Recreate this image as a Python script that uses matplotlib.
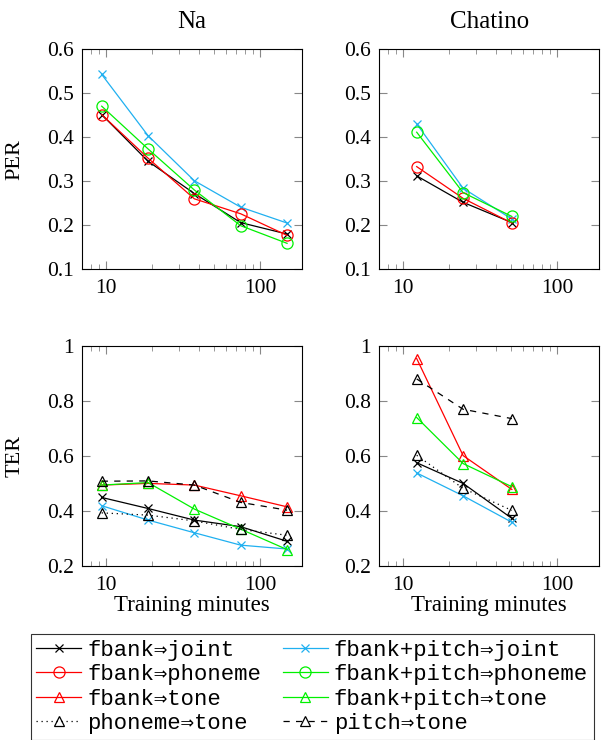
import matplotlib
matplotlib.use('Agg')
import matplotlib.pyplot as plt
from matplotlib.ticker import FixedLocator, LogLocator, NullFormatter, FuncFormatter

# minutos de treino
na_minutes = [9.4, 18.8, 37.5, 75, 150]
chatino_minutes = [12.3, 24.6, 51]

# PER
na_per = {
    'fbank_joint': [0.451, 0.345, 0.272, 0.206, 0.180],
    'pitch_joint': [0.542, 0.403, 0.301, 0.241, 0.205],
    'fbank_phoneme': [0.451, 0.352, 0.260, 0.226, 0.177],
    'pitch_phoneme': [0.470, 0.373, 0.280, 0.199, 0.159],
}
chatino_per = {
    'fbank_joint': [0.312, 0.252, 0.206],
    'pitch_joint': [0.430, 0.284, 0.214],
    'fbank_phoneme': [0.333, 0.261, 0.205],
    'pitch_phoneme': [0.411, 0.274, 0.220],
}

# TER
na_ter = {
    'fbank_joint': [0.449, 0.409, 0.367, 0.343, 0.290],
    'pitch_joint': [0.419, 0.367, 0.321, 0.276, 0.262],
    'fbank_tone': [0.494, 0.500, 0.494, 0.455, 0.415],
    'pitch_tone': [0.494, 0.503, 0.407, 0.334, 0.260],
    'phoneme_tone': [0.393, 0.385, 0.364, 0.333, 0.312],
    'pitchonly_tone': [0.508, 0.509, 0.494, 0.431, 0.403],
}
chatino_ter = {
    'fbank_joint': [0.575, 0.500, 0.373],
    'pitch_joint': [0.538, 0.455, 0.359],
    'fbank_tone': [0.953, 0.601, 0.478],
    'pitch_tone': [0.739, 0.572, 0.488],
    'phoneme_tone': [0.602, 0.482, 0.402],
    'pitchonly_tone': [0.879, 0.769, 0.735],
}

labels = {
    'fbank_joint': 'fbank⇒joint',
    'pitch_joint': 'fbank+pitch⇒joint',
    'fbank_phoneme': 'fbank⇒phoneme',
    'pitch_phoneme': 'fbank+pitch⇒phoneme',
    'fbank_tone': 'fbank⇒tone',
    'pitch_tone': 'fbank+pitch⇒tone',
    'phoneme_tone': 'phoneme⇒tone',
    'pitchonly_tone': 'pitch⇒tone',
}
order = ['fbank_joint', 'pitch_joint', 'fbank_phoneme', 'pitch_phoneme',
         'fbank_tone', 'pitch_tone', 'phoneme_tone', 'pitchonly_tone']

cyan = '#20b0f0'
green = '#00f000'
estilos = {
    'fbank_joint': dict(color='black', marker='x', ls='-', ms=6),
    'pitch_joint': dict(color=cyan, marker='x', ls='-', ms=6),
    'fbank_phoneme': dict(color='red', marker='o', ls='-', ms=8, mfc='none'),
    'pitch_phoneme': dict(color=green, marker='o', ls='-', ms=8, mfc='none'),
    'fbank_tone': dict(color='red', marker='^', ls='-', ms=7, mfc='none'),
    'pitch_tone': dict(color=green, marker='^', ls='-', ms=7, mfc='none'),
    'phoneme_tone': dict(color='black', marker='^', ls=(0, (1, 3)), ms=7, mfc='none'),
    'pitchonly_tone': dict(color='black', marker='^', ls=(0, (5, 5)), ms=7, mfc='none'),
}

plt.rcParams['font.family'] = ['Liberation Serif', 'DejaVu Serif']

fig = plt.figure(figsize=(6.05, 7.4), dpi=100)
w = 0.364
h = 0.298
ax_tl = fig.add_axes([0.1355, 0.636, w, h])
ax_tr = fig.add_axes([0.6264, 0.636, w, h])
ax_bl = fig.add_axes([0.1355, 0.235, w, h])
ax_br = fig.add_axes([0.6264, 0.235, w, h])

def desenha(ax, x, dados):
    for k in order:
        if k in dados:
            ax.plot(x, dados[k], lw=0.9, mew=0.9, label=labels[k], **estilos[k])

desenha(ax_tl, na_minutes, na_per)
desenha(ax_tr, chatino_minutes, chatino_per)
desenha(ax_bl, na_minutes, na_ter)
desenha(ax_br, chatino_minutes, chatino_ter)

def fmt_y(v, pos):
    if abs(v - round(v)) < 1e-9:
        return '%d' % round(v)
    return '%.1f' % v

for ax in [ax_tl, ax_tr, ax_bl, ax_br]:
    ax.set_xscale('log')
    ax.set_xlim(7.0, 188)
    ax.xaxis.set_major_locator(FixedLocator([10, 100]))
    ax.xaxis.set_major_formatter(FuncFormatter(lambda v, p: '%d' % v))
    ax.xaxis.set_minor_locator(LogLocator(base=10, subs=range(2, 10)))
    ax.xaxis.set_minor_formatter(NullFormatter())
    ax.yaxis.set_major_formatter(FuncFormatter(fmt_y))
    ax.tick_params(which='both', direction='in', top=True, right=True,
                   color='#888888', labelsize=15.5)
    ax.tick_params(axis='x', which='major', pad=7)
    ax.tick_params(axis='y', which='major', pad=6)
    ax.tick_params(which='major', length=6, width=0.8)
    ax.tick_params(which='minor', length=3.5, width=0.6)
    for s in ax.spines.values():
        s.set_linewidth(0.8)

for ax in [ax_tl, ax_tr]:
    ax.set_ylim(0.1, 0.6)
    ax.yaxis.set_major_locator(FixedLocator([0.1, 0.2, 0.3, 0.4, 0.5, 0.6]))
for ax in [ax_bl, ax_br]:
    ax.set_ylim(0.2, 1.0)
    ax.yaxis.set_major_locator(FixedLocator([0.2, 0.4, 0.6, 0.8, 1.0]))
    ax.set_xlabel('Training minutes', fontsize=16.5, labelpad=0)

ax_tl.set_title('Na', fontsize=18, pad=15)
ax_tr.set_title('Chatino', fontsize=18, pad=15)
ax_tl.set_ylabel('PER', fontsize=16)
ax_bl.set_ylabel('TER', fontsize=16)
ax_tl.yaxis.set_label_coords(-0.26, 0.5)
ax_bl.yaxis.set_label_coords(-0.26, 0.5)

h_map = {}
for ax in [ax_bl, ax_tl]:
    hs, ls = ax.get_legend_handles_labels()
    for hh, ll in zip(hs, ls):
        h_map.setdefault(ll, hh)
# ordem por colunas: esquerda = fbank, direita = fbank+pitch
col_order = ['fbank_joint', 'fbank_phoneme', 'fbank_tone', 'phoneme_tone',
             'pitch_joint', 'pitch_phoneme', 'pitch_tone', 'pitchonly_tone']
leg = fig.legend([h_map[labels[k]] for k in col_order], [labels[k] for k in col_order],
                 loc='upper left', bbox_to_anchor=(0.051, 0.1432), ncol=2,
                 borderaxespad=0, frameon=True, fancybox=False, edgecolor='black',
                 prop={'family': ['Liberation Mono', 'DejaVu Sans Mono'], 'size': 16},
                 handlelength=2.0, columnspacing=1.0, labelspacing=0.16,
                 borderpad=0.25, handletextpad=0.28)
leg.get_frame().set_linewidth(0.8)

fig.savefig('out.png', dpi=100)
